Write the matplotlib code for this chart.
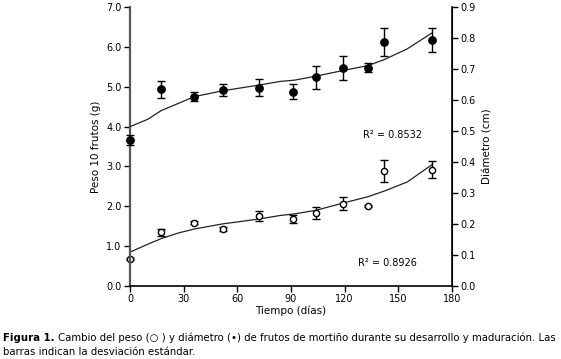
import matplotlib
matplotlib.use("Agg")
import matplotlib.pyplot as plt

# sampling days
dias = [0, 17.5, 36, 52, 72, 91, 104, 119, 133, 142, 169]

# weight of 10 fruits (g), open circles, left axis
peso = [0.68, 1.35, 1.59, 1.44, 1.75, 1.68, 1.84, 2.07, 2.0, 2.88, 2.92]
peso_sd = [0.03, 0.09, 0.04, 0.05, 0.13, 0.11, 0.15, 0.17, 0.03, 0.28, 0.21]

# diameter (cm), filled circles, right axis
diam = [0.472, 0.634, 0.611, 0.633, 0.640, 0.627, 0.673, 0.704, 0.704, 0.786, 0.794]
diam_sd = [0.016, 0.026, 0.014, 0.02, 0.028, 0.025, 0.036, 0.039, 0.014, 0.045, 0.039]

# fitted trend lines
curva_x = [0, 10, 17.5, 27, 36, 52, 72, 84, 92, 104, 119, 133, 142, 155, 169]
curva_peso = [0.85, 1.05, 1.19, 1.33, 1.43, 1.56, 1.68, 1.77, 1.81, 1.9, 2.08, 2.24, 2.38, 2.61, 3.05]
curva_diam = [0.514, 0.538, 0.566, 0.589, 0.611, 0.630, 0.648, 0.660, 0.664, 0.677, 0.695, 0.711, 0.730, 0.765, 0.817]

r2_peso = "R² = 0.8926"
r2_diam = "R² = 0.8532"

plt.rcParams['font.family'] = 'DejaVu Sans'
fig = plt.figure(figsize=(5.61, 3.59), dpi=100)
ax = fig.add_axes([0.2317, 0.2033, 0.5740, 0.7772])
ax2 = ax.twinx()

ax.plot(curva_x, curva_peso, color='#222222', lw=0.9)
eb1 = ax.errorbar(dias, peso, yerr=peso_sd, fmt='o', ms=4.5, mfc='white', mec='black',
                  mew=1.0, ecolor='black', elinewidth=1.0, capsize=3, capthick=1.0)
ax2.plot(curva_x, curva_diam, color='#222222', lw=0.9)
eb2 = ax2.errorbar(dias, diam, yerr=diam_sd, fmt='o', ms=5.3, color='black',
                   ecolor='black', elinewidth=1.0, capsize=3, capthick=1.0)
for eb in (eb1, eb2):
    for art in eb.get_children():
        art.set_clip_on(False)

ax.set_xlim(0, 180)
ax.set_ylim(0, 7)
ax2.set_ylim(0, 0.9)
ax.set_xticks(range(0, 181, 30))
ax.set_yticks([i * 1.0 for i in range(8)])
ax.set_yticklabels([f"{i:.1f}" for i in range(8)])
ax2.set_yticks([i / 10 for i in range(10)])
ax2.set_yticklabels([f"{i / 10:.1f}" for i in range(10)])

for a in (ax, ax2):
    a.spines['top'].set_visible(False)
    a.tick_params(labelsize=7, length=4, width=1.0, pad=2)
ax.spines['left'].set_color('#555555')
ax.spines['left'].set_linewidth(1.6)
ax.spines['bottom'].set_linewidth(1.2)
ax2.spines['right'].set_linewidth(1.2)
ax2.spines['left'].set_visible(False)
ax2.spines['bottom'].set_visible(False)

ax.set_xlabel("Tiempo (días)", fontsize=7.5, labelpad=1)
ax.set_ylabel("Peso 10 frutos (g)", fontsize=7.5, labelpad=4)
ax2.set_ylabel("Diámetro (cm)", fontsize=7.5, labelpad=5)

ax.text(147, 3.79, r2_diam, fontsize=7, ha='center', va='center')
ax.text(144, 0.58, r2_peso, fontsize=7, ha='center', va='center')

# caption, sized to span the figure width
y1 = 1 - 338 / 359
y2 = 1 - 352 / 359
fs = 7.5
t1 = fig.text(3 / 561, y1, "Figura 1.", fontsize=fs, fontweight='bold', va='center')
t2 = fig.text(0, y1,
              "Cambio del peso (○ ) y diámetro (•) de frutos de mortiño durante su desarrollo y maduración. Las",
              fontsize=fs, va='center')
t3 = fig.text(3 / 561, y2, "barras indican la desviación estándar.", fontsize=fs, va='center')
fig.canvas.draw()
r = fig.canvas.get_renderer()
w = t1.get_window_extent(r).width + 3 + t2.get_window_extent(r).width
fs = fs * 554 / w
for t in (t1, t2, t3):
    t.set_fontsize(fs)
fig.canvas.draw()
bb = t1.get_window_extent(r)
t2.set_x((bb.x1 + 3) / 561)

fig.savefig("out.png", dpi=100)
